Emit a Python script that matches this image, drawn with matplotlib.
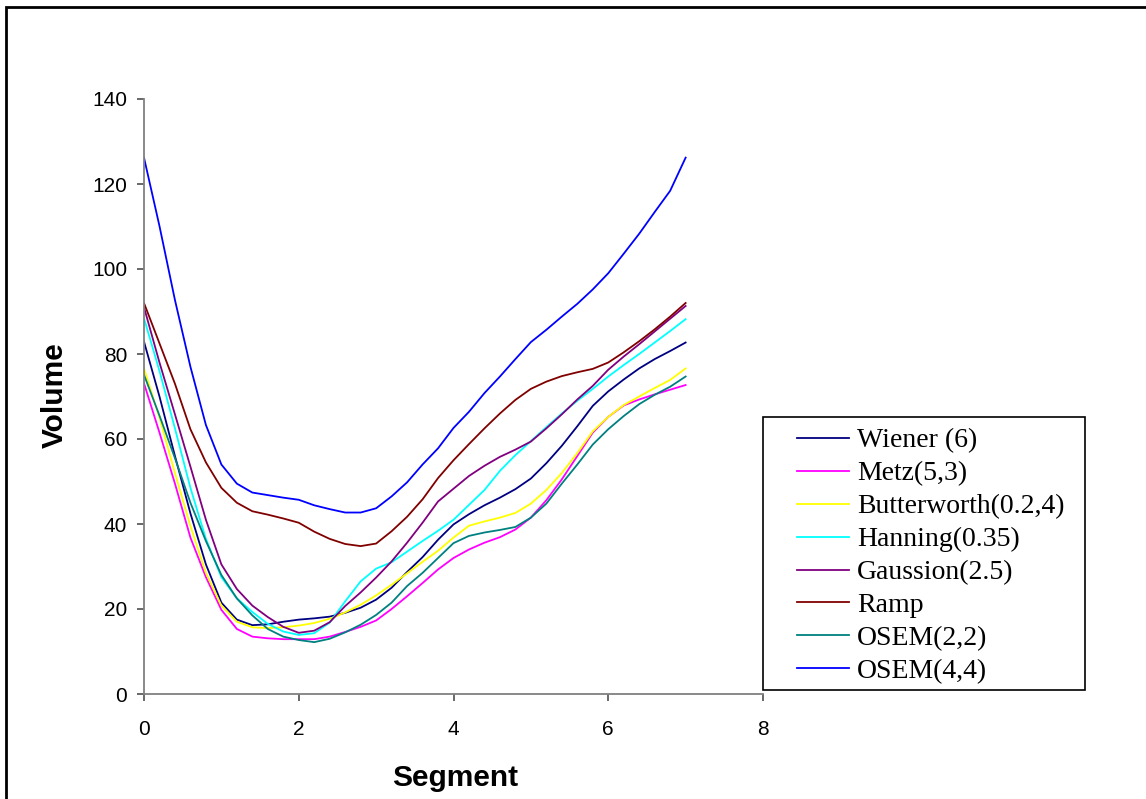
import numpy as np
import matplotlib.pyplot as plt
from matplotlib.patches import Rectangle

segment = [0.0, 0.2, 0.4, 0.6, 0.8, 1.0, 1.2, 1.4, 1.6, 1.8,
           2.0, 2.2, 2.4, 2.6, 2.8, 3.0, 3.2, 3.4, 3.6, 3.8,
           4.0, 4.2, 4.4, 4.6, 4.8, 5.0, 5.2, 5.4, 5.6, 5.8,
           6.0, 6.2, 6.4, 6.6, 6.8, 7.0]

wiener = [82.9, 70.0, 56.0, 42.5, 30.5, 21.5, 17.5, 16.2, 16.4, 17.0,
          17.5, 17.8, 18.2, 19.1, 20.3, 22.2, 25.0, 28.7, 32.2, 36.3,
          39.9, 42.3, 44.4, 46.2, 48.2, 50.7, 54.3, 58.4, 63.0, 67.8,
          71.2, 74.0, 76.6, 78.8, 80.7, 82.7]
metz = [73.1, 61.5, 49.5, 36.8, 27.5, 19.8, 15.3, 13.5, 13.1, 12.9,
        12.9, 12.9, 13.5, 14.6, 15.8, 17.3, 20.0, 23.0, 26.1, 29.3,
        32.0, 34.0, 35.6, 36.9, 38.7, 41.5, 45.6, 50.5, 56.0, 61.5,
        65.2, 67.9, 69.3, 70.5, 71.6, 72.7]
butterworth = [76.6, 65.0, 52.0, 39.5, 28.5, 20.8, 17.0, 15.7, 15.5, 15.7,
               16.1, 16.7, 17.7, 19.2, 21.0, 23.2, 25.7, 28.4, 31.1, 33.7,
               36.8, 39.6, 40.6, 41.5, 42.6, 44.8, 48.0, 52.0, 56.7, 61.8,
               65.2, 68.0, 70.0, 72.0, 73.9, 76.6]
hanning = [88.4, 76.0, 62.5, 48.5, 36.5, 27.5, 22.5, 19.3, 16.5, 14.7,
           13.9, 14.3, 16.8, 21.8, 26.5, 29.5, 31.0, 33.5, 36.0, 38.4,
           41.0, 44.5, 48.0, 52.5, 56.2, 59.5, 62.8, 66.0, 69.0, 71.8,
           74.7, 77.4, 80.0, 82.7, 85.4, 88.2]
gaussion = [91.0, 78.0, 65.8, 53.5, 41.0, 30.5, 24.7, 20.8, 18.1, 15.8,
            14.4, 14.9, 16.9, 20.7, 23.9, 27.4, 31.2, 35.6, 40.3, 45.3,
            48.3, 51.3, 53.7, 55.8, 57.5, 59.4, 62.5, 65.8, 69.3, 72.5,
            76.3, 79.4, 82.3, 85.3, 88.3, 91.3]
ramp = [92.0, 82.5, 73.0, 62.3, 54.5, 48.5, 45.0, 43.0, 42.2, 41.3,
        40.3, 38.2, 36.5, 35.3, 34.8, 35.4, 38.3, 41.7, 45.8, 50.8,
        55.0, 58.8, 62.5, 66.0, 69.2, 71.8, 73.5, 74.8, 75.7, 76.5,
        78.0, 80.4, 83.0, 85.8, 88.8, 92.0]
osem22 = [75.1, 65.5, 55.5, 45.0, 36.0, 28.0, 22.5, 18.5, 15.3, 13.5,
          12.7, 12.2, 13.0, 14.5, 16.3, 18.6, 21.5, 25.4, 28.5, 32.0,
          35.5, 37.2, 38.0, 38.6, 39.3, 41.5, 44.8, 49.5, 54.0, 58.7,
          62.3, 65.4, 68.2, 70.4, 72.3, 74.7]
osem44 = [126.2, 110.1, 92.7, 77.0, 63.3, 54.0, 49.5, 47.4, 46.8, 46.2,
          45.7, 44.4, 43.5, 42.7, 42.7, 43.7, 46.5, 49.8, 54.0, 57.8,
          62.6, 66.4, 70.8, 74.7, 78.8, 82.8, 85.7, 88.8, 91.8, 95.2,
          99.0, 103.6, 108.3, 113.4, 118.4, 126.2]

series = [("Wiener (6)", wiener, "#000080"),
          ("Metz(5,3)", metz, "#FF00FF"),
          ("Butterworth(0.2,4)", butterworth, "#FFFF00"),
          ("Hanning(0.35)", hanning, "#00FFFF"),
          ("Gaussion(2.5)", gaussion, "#800080"),
          ("Ramp", ramp, "#800000"),
          ("OSEM(2,2)", osem22, "#008080"),
          ("OSEM(4,4)", osem44, "#0000FF")]

plt.rcParams['font.family'] = ['Liberation Sans', 'DejaVu Sans']

fig = plt.figure(figsize=(11.46, 7.99), dpi=100)
ax = fig.add_axes([144/1146, 1-694/799, (763-144)/1146, (694-99)/799])

for name, vals, col in series:
    ax.plot(segment, vals, color=col, lw=1.3, label=name)

ax.set_xlim(0, 8)
ax.set_ylim(0, 140)
ax.set_xticks([0, 2, 4, 6, 8])
ax.set_yticks(range(0, 141, 20))
for s in ['top', 'right']:
    ax.spines[s].set_visible(False)
for s in ['left', 'bottom']:
    ax.spines[s].set_color('#808080')
    ax.spines[s].set_linewidth(1.3)
ax.tick_params(axis='both', direction='out', length=5, width=1.1,
               color='#404040', labelsize=15)
ax.tick_params(axis='y', pad=7)
ax.tick_params(axis='x', pad=14)

fig.text(455/1146, 1-778/799, "Segment", ha='center', va='center',
         fontsize=21.5, fontweight='bold')
fig.text(55/1146, 1-395/799, "Volume", ha='center', va='center',
         fontsize=21.5, fontweight='bold', rotation=90)

# legend box drawn by hand, legend itself has no frame
fig.patches.append(Rectangle((763/1146, 1-690/799), (1085-763)/1146, (690-417)/799,
                             transform=fig.transFigure, facecolor='white',
                             edgecolor='black', lw=1.2, zorder=3))
leg = fig.legend(loc='upper left', bbox_to_anchor=(797/1146, 1-428/799),
                 frameon=False,
                 prop={'family': 'Liberation Serif', 'size': 20},
                 handlelength=1.87, handletextpad=0.29, labelspacing=0.27,
                 borderpad=0, borderaxespad=0)
leg.set_zorder(4)

# outer chart border (runs off the right and bottom edges)
fig.patches.append(Rectangle((6/1146, -0.05), 1.2, 1-7/799+0.05,
                             transform=fig.transFigure, fill=False,
                             edgecolor='black', lw=2))

plt.savefig('out.png', dpi=100)
